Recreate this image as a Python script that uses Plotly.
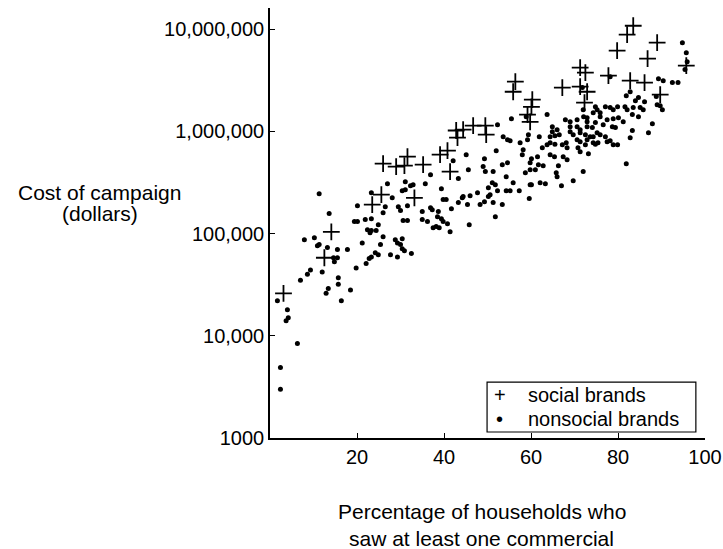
import plotly.graph_objects as go

# Percentage of households reached vs. campaign cost, by brand type
social_pct = [3.1, 12.5, 14.1, 23.5, 25.6, 26.0, 29.0, 31.6, 30.9, 35.2, 33.2, 39.1, 40.8,
              41.4, 42.8, 43.1, 44.4, 46.7, 49.5, 49.7, 56.4, 55.9, 60.3, 60.1, 59.2, 59.8,
              67.2, 71.3, 72.5, 71.3, 72.9, 72.3, 77.8, 79.8, 82.1, 83.5, 82.8, 86.1, 86.8,
              89.0, 89.7, 95.7]
social_cost = [26000, 58000, 104000, 192000, 240000, 483000, 452000, 566000, 462000, 472000,
               224000, 592000, 647000, 404000, 1020000, 868000, 1040000, 1140000, 1140000,
               929000, 3060000, 2440000, 2040000, 1740000, 1460000, 1240000, 2680000, 4200000,
               3750000, 2740000, 2440000, 1910000, 3510000, 6170000, 8840000, 10800000,
               3130000, 3000000, 5140000, 7380000, 2290000, 4390000]

nonsocial_pct = [
    2.4, 2.4, 6.3, 3.7, 4.2, 4.0, 1.7, 7.0, 8.6, 9.3, 12.0, 7.9, 10.2, 10.9, 11.3, 11.3,
    13.6, 13.2, 15.5, 17.8, 14.6, 15.5, 14.8, 15.7, 15.7, 13.4, 12.9, 18.5, 16.4, 19.8,
    22.1, 22.8, 23.3, 24.2, 24.9, 21.2, 25.4, 26.0, 22.4, 23.3, 24.4, 23.0, 19.4, 20.1,
    21.9, 23.3, 24.9, 20.1, 26.5, 26.0, 23.3, 27.0, 31.1, 32.9, 32.3, 31.1, 30.4, 35.7,
    28.1, 29.5, 31.6, 30.0, 35.0, 36.9, 37.3, 38.7, 39.8, 40.5, 41.7, 43.3, 44.2, 44.4,
    46.0, 45.4, 47.7, 48.3, 49.3, 50.2, 31.6, 30.6, 35.0, 36.2, 37.5, 38.2, 38.9, 38.5,
    39.4, 39.8, 40.8, 41.4, 45.8, 28.8, 30.4, 29.3, 30.0, 30.4, 30.9, 32.5, 27.7, 29.3,
    36.9, 39.4, 45.1, 45.6, 43.3, 42.1, 49.3, 49.0, 49.5, 50.2, 51.1, 51.8, 52.3, 51.3,
    53.4, 54.3, 55.2, 55.9, 57.3, 51.8, 59.6, 60.1, 62.1, 63.3, 67.0, 69.7, 55.5, 63.7,
    52.3, 53.6, 54.6, 55.2, 59.4, 59.2, 61.9, 57.5, 52.0, 51.3, 53.4, 54.6, 58.2, 58.0,
    60.1, 59.8, 58.7, 59.8, 61.0, 61.7, 62.8, 61.5, 62.6, 63.7, 64.4, 64.4, 65.4, 66.3,
    65.8, 66.0, 59.8, 54.3, 50.6, 67.2, 68.3, 68.1, 67.4, 68.3, 72.0, 69.0, 70.6, 70.6,
    72.9, 72.1, 71.3, 72.5, 72.9, 69.0, 67.9, 64.9, 66.0, 64.9, 65.5, 66.5, 94.8, 95.7,
    95.9, 95.4, 89.3, 90.4, 92.5, 93.8, 82.8, 81.9, 84.7, 84.0, 86.1, 88.8, 89.0, 89.7,
    81.6, 82.1, 83.5, 85.1, 85.8, 83.3, 84.7, 87.9, 87.0, 83.3, 82.8, 78.9, 74.8, 77.1,
    78.2, 74.3, 75.9, 72.9, 77.5, 78.9, 80.1, 74.8, 76.6, 72.9, 74.1, 78.7, 79.4, 71.3,
    74.3, 75.9, 77.1, 77.5, 74.3, 74.8, 79.9, 71.3, 72.5, 75.4, 78.2, 73.2, 81.9, 90.2,
    79.9, 78.9, 75.2, 75.9, 72.0, 81.2, 75.2, 73.6, 70.6, 69.0, 69.7, 70.8, 71.3, 64.4,
    65.5, 78.2, 58.9, 71.8]
nonsocial_cost = [
    3000, 4900, 8400, 14000, 15000, 18000, 22000, 35000, 40000, 44000, 42000, 87000, 91000,
    76000, 78000, 245000, 157000, 73000, 70000, 70000, 58000, 58000, 53000, 37000, 32000,
    29000, 26000, 28000, 22000, 46000, 51000, 57000, 59000, 65000, 62000, 81000, 78000,
    93000, 109000, 107000, 107000, 102000, 131000, 131000, 137000, 140000, 122000, 187000,
    183000, 160000, 251000, 308000, 322000, 301000, 294000, 269000, 263000, 308000, 224000,
    183000, 187000, 168000, 164000, 179000, 171000, 164000, 215000, 215000, 175000, 201000,
    224000, 230000, 235000, 192000, 251000, 192000, 205000, 230000, 134000, 134000, 137000,
    131000, 114000, 117000, 114000, 146000, 140000, 131000, 125000, 104000, 122000, 87000,
    89000, 81000, 78000, 71000, 68000, 64000, 62000, 59000, 377000, 275000, 592000, 422000,
    345000, 517000, 541000, 452000, 404000, 281000, 315000, 301000, 263000, 201000, 192000,
    263000, 263000, 315000, 263000, 146000, 220000, 301000, 315000, 308000, 294000, 329000,
    1330000, 1460000, 1160000, 888000, 830000, 811000, 929000, 830000, 888000, 775000,
    647000, 404000, 472000, 494000, 662000, 592000, 541000, 494000, 394000, 422000, 422000,
    472000, 462000, 566000, 693000, 741000, 775000, 592000, 566000, 462000, 394000, 360000,
    301000, 360000, 240000, 741000, 693000, 775000, 566000, 529000, 404000, 1240000,
    1300000, 1110000, 1240000, 1390000, 1040000, 929000, 830000, 1110000, 1300000, 1110000,
    1040000, 993000, 908000, 929000, 7380000, 5890000, 4810000, 4020000, 3280000, 3130000,
    3000000, 3000000, 2440000, 2230000, 2140000, 1990000, 1950000, 2190000, 1820000,
    1780000, 1740000, 1630000, 1710000, 1710000, 1630000, 1460000, 1390000, 1190000, 971000,
    1020000, 868000, 741000, 1740000, 1740000, 1710000, 1520000, 1390000, 1360000, 1300000,
    1330000, 1360000, 1220000, 1160000, 1110000, 1090000, 1110000, 1090000, 971000, 888000,
    929000, 888000, 793000, 775000, 748000, 741000, 793000, 741000, 775000, 811000, 605000,
    483000, 1630000, 1740000, 1630000, 1630000, 1520000, 1630000, 1240000, 971000, 888000,
    830000, 993000, 929000, 693000, 633000, 888000, 748000, 3430000, 1390000, 2680000]

x_ticks = [20, 40, 60, 80, 100]
y_ticks = [1000, 10000, 100000, 1000000, 10000000]
y_tick_labels = ["1000", "10,000", "100,000", "1,000,000", "10,000,000"]

FONT = "Liberation Sans, Arial, Helvetica, sans-serif"

fig = go.Figure()
fig.add_trace(go.Scatter(
    x=nonsocial_pct, y=nonsocial_cost, mode="markers", name="nonsocial brands",
    marker=dict(symbol="circle", size=5, color="black", line=dict(width=0)),
))
fig.add_trace(go.Scatter(
    x=social_pct, y=social_cost, mode="markers", name="social brands",
    marker=dict(symbol="cross-thin", size=12, color="black",
                line=dict(width=1.8, color="black")),
))

axis_common = dict(
    showline=True, linecolor="black", linewidth=1.6, mirror=False,
    ticks="inside", ticklen=5, tickwidth=1.2, tickcolor="black", automargin=False,
    showgrid=False, zeroline=False, tickfont=dict(size=20, color="black", family=FONT),
)
fig.update_xaxes(range=[0, 100], tickvals=x_ticks, **axis_common)
fig.update_yaxes(type="log", range=[3, 7.207], tickvals=y_ticks, ticktext=y_tick_labels,
                 **axis_common)

# framed key in the lower right corner
fig.add_shape(type="rect", xref="paper", yref="paper", x0=0.499, x1=0.979, y0=0.014,
              y1=0.130, line=dict(color="black", width=1.2), fillcolor="white", layer="above")
key_rows = [("+", "social brands", 0.0995), ("\u2022", "nonsocial brands", 0.0437)]
for sym, label, yy in key_rows:
    fig.add_annotation(x=0.5287, y=yy, xref="paper", yref="paper", text=sym,
                       showarrow=False, xanchor="center", yanchor="middle",
                       font=dict(size=20, family=FONT, color="black"))
    fig.add_annotation(x=0.5885, y=yy, xref="paper", yref="paper", text=label,
                       showarrow=False, xanchor="left", yanchor="middle",
                       font=dict(size=20, family=FONT, color="black"))

# axis titles
for text, yy in [("Cost of campaign", 0.572), ("(dollars)", 0.523)]:
    fig.add_annotation(x=-0.391, y=yy, xref="paper", yref="paper", text=text,
                       showarrow=False, xanchor="center", yanchor="middle",
                       font=dict(size=21, family=FONT, color="black"))
for text, yy in [("Percentage of households who", -0.172),
                 ("saw at least one commercial", -0.2326)]:
    fig.add_annotation(x=0.487, y=yy, xref="paper", yref="paper", text=text,
                       showarrow=False, xanchor="center", yanchor="middle",
                       font=dict(size=21, family=FONT, color="black"))

fig.update_layout(
    width=723, height=549,
    margin=dict(l=270, r=18, t=8, b=111, autoexpand=False),
    plot_bgcolor="white", paper_bgcolor="white",
    showlegend=False,
    font=dict(family=FONT, size=20, color="black"),
)

fig.write_html("out.html")
